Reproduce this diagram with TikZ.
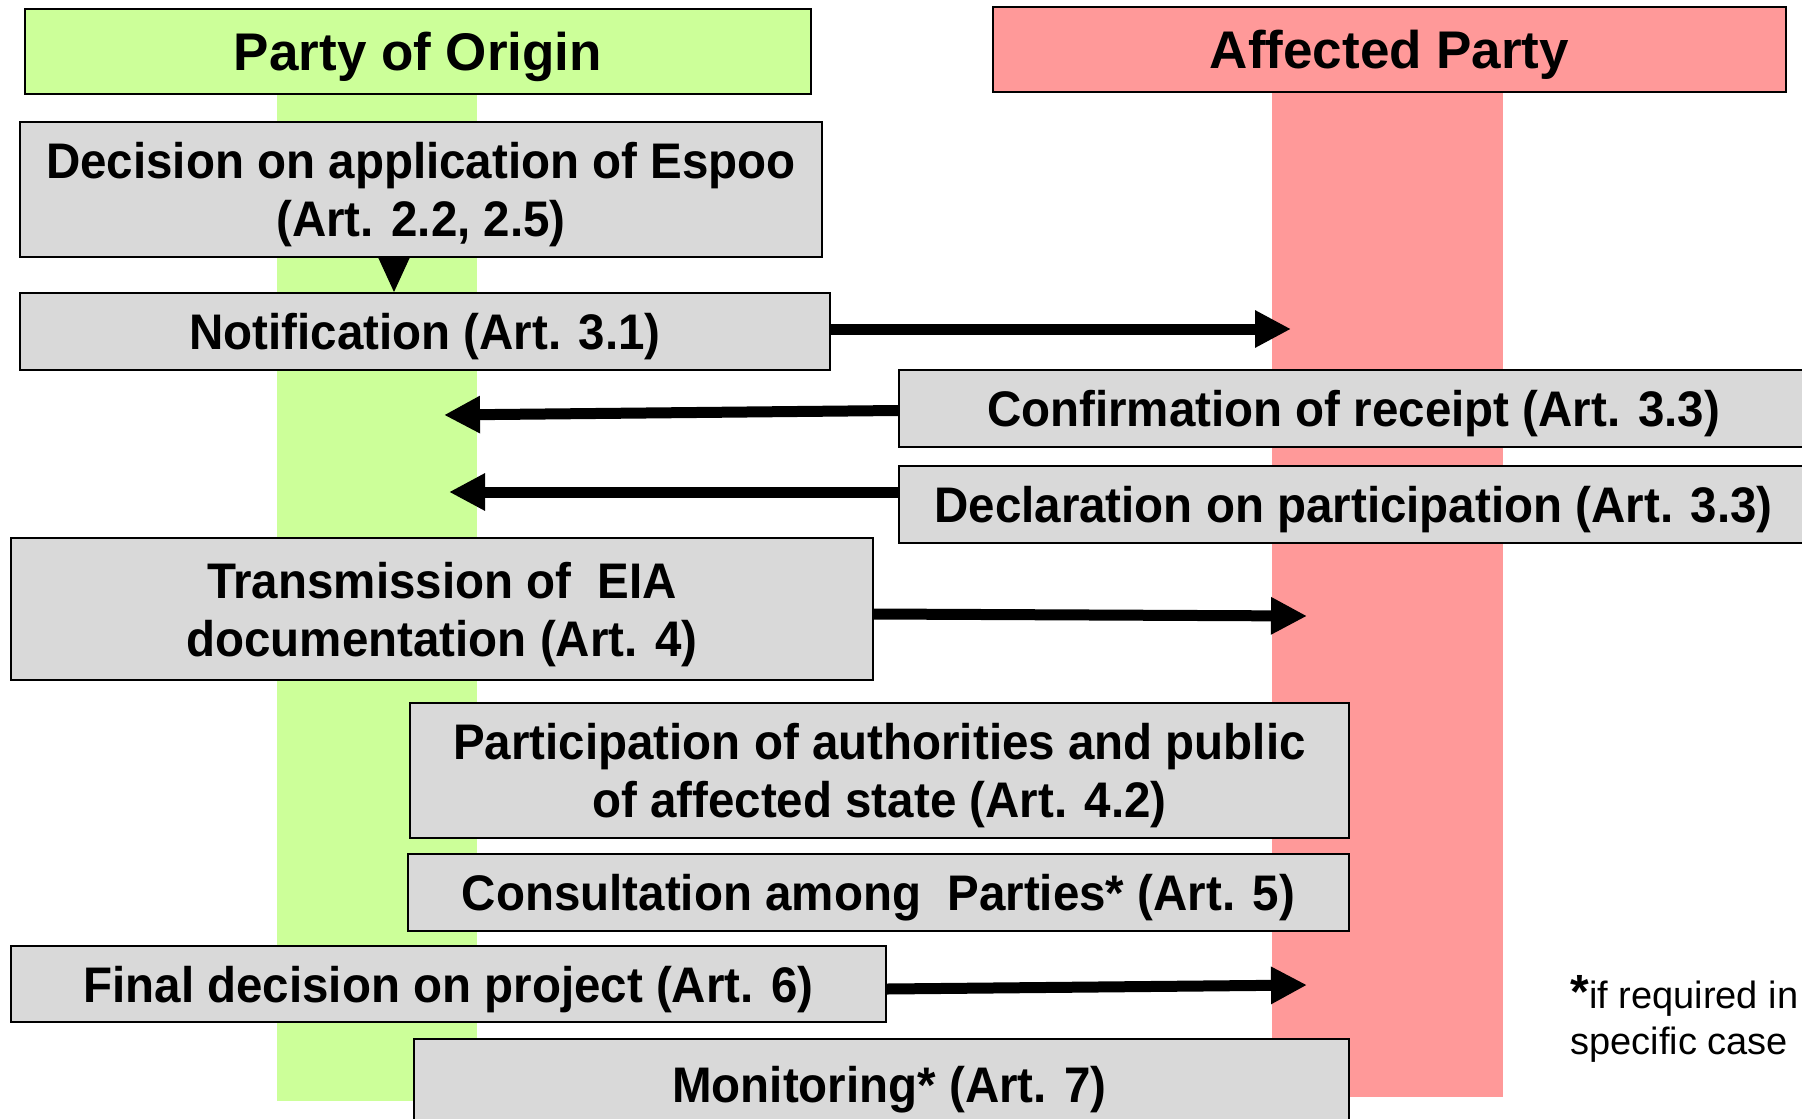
\documentclass[tikz,border=0pt]{standalone}
\usepackage{fontspec}
\setmainfont{Liberation Sans}
\newfontfamily\boxfont{Liberation Sans}[FakeStretch=0.95]
\usetikzlibrary{arrows.meta,calc}

\definecolor{origingreen}{HTML}{CCFF99}
\definecolor{affectedred}{HTML}{FF9999}
\definecolor{boxgray}{HTML}{D9D9D9}

\begin{document}
\begin{tikzpicture}[x=0.5pt,y=-0.5pt,
  header/.style={draw, line width=1pt, inner sep=0pt, align=center, text depth=0pt,
    font=\bfseries\fontsize{26.5}{30}\selectfont},
  stepbox/.style={draw, line width=1pt, fill=boxgray, inner sep=0pt, align=center,
    text depth=0pt, font=\boxfont\bfseries\fontsize{25}{29}\selectfont},
  flow/.style={line width=5.5pt, -{Triangle[length=18pt,width=17.5pt]}},
  notefont/.style={inner sep=0pt, anchor=base west, font=\fontsize{19}{23}\selectfont}]

\clip (0,0) rectangle (1802,1118);
\fill[white] (0,0) rectangle (1802,1118);

% lanes of the two parties
\fill[origingreen] (277,8) rectangle (477,1101);
\fill[affectedred] (1272,10) rectangle (1503,1097);

% lane headers
\node[header, fill=origingreen, minimum width=393pt, minimum height=42.5pt]
  (hdrO) at (418,51.5) {Party of Origin};
\node[header, fill=affectedred, minimum width=396.5pt, minimum height=42.5pt]
  (hdrA) at (1389.5,49.5) {Affected Party};

% procedure steps
\node[stepbox, minimum width=401pt, minimum height=67.5pt] (dec) at (421,189.5)
  {Decision on application of Espoo\\(Art. 2.2, 2.5)};
\node[stepbox, minimum width=405pt, minimum height=38.5pt] (notif) at (425,331.5)
  {Notification (Art. 3.1)};
\node[stepbox, minimum width=454.5pt, minimum height=38.5pt] (conf) at (1353.5,408.5)
  {Confirmation of receipt (Art. 3.3)};
\node[stepbox, minimum width=454.5pt, minimum height=38.5pt] (decl) at (1353.5,504.5)
  {Declaration on participation (Art. 3.3)};
\node[stepbox, minimum width=431pt, minimum height=71pt] (trans) at (442,609)
  {Transmission of\ \ EIA\\documentation (Art. 4)};
\node[stepbox, minimum width=469.5pt, minimum height=67.5pt] (part) at (879.5,770.5)
  {Participation of authorities and public\\of affected state (Art. 4.2)};
\node[stepbox, minimum width=470.5pt, minimum height=38.5pt] (cons) at (878.5,892.5)
  {Consultation among\ \ Parties* (Art. 5)};
\node[stepbox, minimum width=437.5pt, minimum height=38pt] (final) at (448.5,984)
  {Final decision on project (Art. 6)};
\node[stepbox, minimum width=467.5pt, minimum height=45pt] (mon) at (881.5,1084)
  {\hspace*{8pt}Monitoring* (Art. 7)};

% footnote
\node[notefont] (note1) at (1570,1008)
  {{\fontsize{24}{24}\selectfont\bfseries *}if required in};
\node[notefont] (note2) at (1570,1054) {specific case};

% arrow tips
\coordinate (dn) at (394,0);
\coordinate (tN) at (1291,329);
\coordinate (tC) at (444,415);
\coordinate (tD) at (449,492);
\coordinate (tT) at (1307,616);
\coordinate (tF) at (1307,985);

% connectors
\draw[line width=0.5pt, -{Triangle[length=17pt,width=15.5pt]}]
  (dn |- dec.south) -- (dn |- notif.north);
\draw[flow] (notif.east |- tN) -- (tN);
\draw[flow] ($(conf.west)+(0,2)$) -- (tC);
\draw[flow] (decl.west |- tD) -- (tD);
\draw[flow] ($(trans.east)+(0,5)$) -- (tT);
\draw[flow] ($(final.east)+(0,5)$) -- (tF);
\end{tikzpicture}
\end{document}
